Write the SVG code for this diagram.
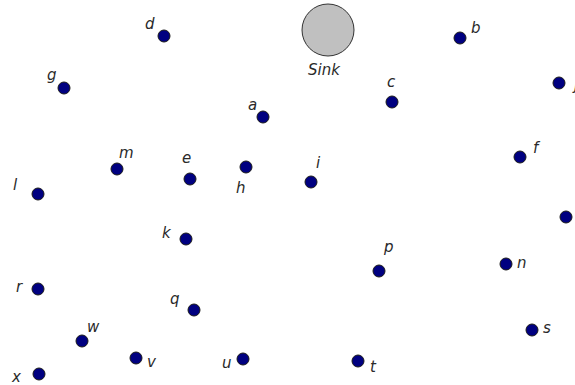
<svg xmlns="http://www.w3.org/2000/svg" width="575" height="385" viewBox="0 0 575 385">
<style>
.n{fill:#000080;stroke:#1a1a1a;stroke-width:1}
.t{font-family:"DejaVu Sans",sans-serif;font-style:italic;font-size:15px;fill:#2a2a2a}
</style>
<rect width="575" height="385" fill="#fff"/>
<g id="connectors"></g>
<g id="sink"><circle cx="328" cy="30" r="26" fill="#c0c0c0" stroke="#333" stroke-width="1"/><text class="t" x="308" y="75">Sink</text></g>
<g id="d"><circle class="n" cx="164" cy="36" r="6"/><text class="t" x="145" y="29">d</text></g>
<g id="b"><circle class="n" cx="460" cy="38" r="6"/><text class="t" x="471" y="33">b</text></g>
<g id="g"><circle class="n" cx="64" cy="88" r="6"/><text class="t" x="47" y="80">g</text></g>
<g id="c"><circle class="n" cx="392" cy="102" r="6"/><text class="t" x="387" y="87">c</text></g>
<g id="j"><circle class="n" cx="559" cy="83" r="6"/><text class="t" x="574" y="90">j</text></g>
<g id="a"><circle class="n" cx="263" cy="117" r="6"/><text class="t" x="248" y="110">a</text></g>
<g id="m"><circle class="n" cx="117" cy="169" r="6"/><text class="t" x="119" y="158">m</text></g>
<g id="e"><circle class="n" cx="190" cy="179" r="6"/><text class="t" x="182" y="163">e</text></g>
<g id="h"><circle class="n" cx="246" cy="167" r="6"/><text class="t" x="236" y="193">h</text></g>
<g id="i"><circle class="n" cx="311" cy="182" r="6"/><text class="t" x="316" y="168">i</text></g>
<g id="f"><circle class="n" cx="520" cy="157" r="6"/><text class="t" x="533" y="153">f</text></g>
<g id="l"><circle class="n" cx="38" cy="194" r="6"/><text class="t" x="13" y="190">l</text></g>
<g id="k"><circle class="n" cx="186" cy="239" r="6"/><text class="t" x="162" y="238">k</text></g>
<g id="o"><circle class="n" cx="566" cy="217" r="6"/></g>
<g id="p"><circle class="n" cx="379" cy="271" r="6"/><text class="t" x="384" y="252">p</text></g>
<g id="n"><circle class="n" cx="506" cy="264" r="6"/><text class="t" x="517" y="268">n</text></g>
<g id="r"><circle class="n" cx="38" cy="289" r="6"/><text class="t" x="16" y="292">r</text></g>
<g id="q"><circle class="n" cx="194" cy="310" r="6"/><text class="t" x="170" y="304">q</text></g>
<g id="w"><circle class="n" cx="82" cy="341" r="6"/><text class="t" x="87" y="332">w</text></g>
<g id="s"><circle class="n" cx="532" cy="330" r="6"/><text class="t" x="543" y="333">s</text></g>
<g id="v"><circle class="n" cx="136" cy="358" r="6"/><text class="t" x="147" y="367">v</text></g>
<g id="u"><circle class="n" cx="243" cy="359" r="6"/><text class="t" x="222" y="368">u</text></g>
<g id="t"><circle class="n" cx="358" cy="361" r="6"/><text class="t" x="370" y="372">t</text></g>
<g id="x"><circle class="n" cx="39" cy="374" r="6"/><text class="t" x="12" y="382">x</text></g>
</svg>
